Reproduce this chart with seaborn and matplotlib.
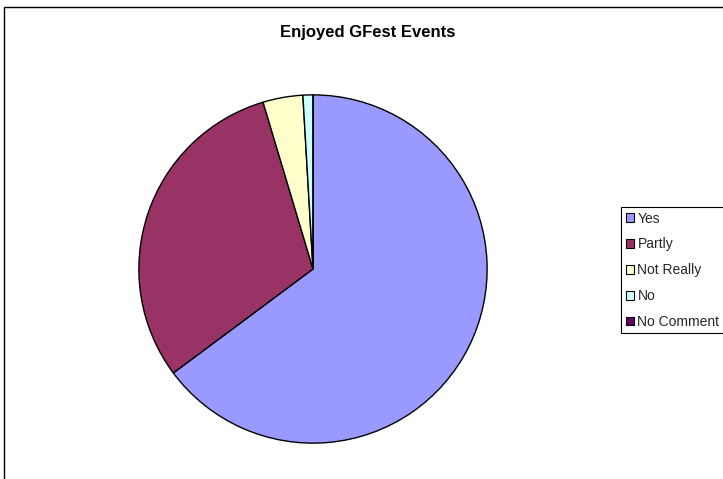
import matplotlib
matplotlib.use("Agg")
import matplotlib.pyplot as plt
import seaborn as sns
from matplotlib.patches import Rectangle, Patch

sns.set_theme(style="white")
plt.rcParams['font.family'] = ['Liberation Sans', 'DejaVu Sans']

categories = ["Yes", "Partly", "Not Really", "No", "No Comment"]
values = [70, 33, 4, 1, 0]
colors = ["#9999FF", "#993366", "#FFFFCC", "#CCFFFF", "#660066"]
title = "Enjoyed GFest Events"

W, H = 723, 479
fig = plt.figure(figsize=(W / 100, H / 100), dpi=100)
fig.patch.set_facecolor("white")

# outer chart frame
fig.add_artist(Rectangle((4 / W, -0.01), 1.02, 1 - 7 / H + 0.01, transform=fig.transFigure,
                         fill=False, edgecolor="black", linewidth=1.0))

cx, cy, r = 313, 269, 175
ax = fig.add_axes([(cx - r) / W, (H - cy - r) / H, 2 * r / W, 2 * r / H])
ax.pie(values, colors=colors, startangle=90, counterclock=False, radius=1,
       wedgeprops=dict(edgecolor="black", linewidth=1.0))
ax.set_xlim(-1.005, 1.005)
ax.set_ylim(-1.005, 1.005)
ax.set_aspect("auto")
ax.axis("off")

fig.text(368 / W, 1 - 32 / H, title, ha="center", va="center",
         fontsize=12, fontweight="bold", color="black")

handles = [Patch(facecolor=c, edgecolor="black", linewidth=0.8) for c in colors]
leg = fig.legend(handles, categories, loc="upper left",
                 bbox_to_anchor=(621 / W, 1 - 207 / H), borderaxespad=0,
                 fancybox=False, edgecolor="black", framealpha=1,
                 fontsize=10, labelspacing=0.85, handlelength=0.6, handleheight=0.6,
                 handletextpad=0.25, borderpad=0.33)
leg.get_frame().set_linewidth(0.8)

fig.savefig("out.png", dpi=100)
